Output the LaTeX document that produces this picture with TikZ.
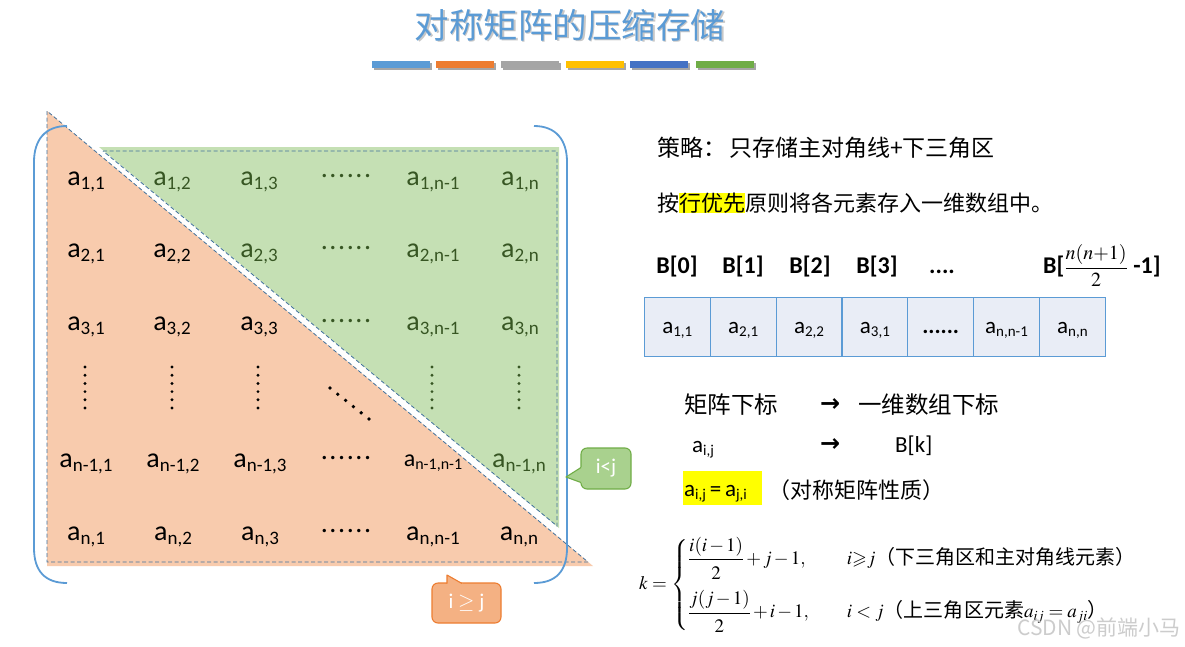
\documentclass[tikz,border=0pt]{standalone}
\usepackage{amsmath,amssymb}
\usepackage{mathptmx}
\usepackage[no-math]{fontspec}
\setmainfont{Carlito}
\newfontfamily\cjk{Noto Sans CJK SC}
\newfontfamily\dv{DejaVu Sans}
\definecolor{tblue}{HTML}{5B9BD5}
\definecolor{torange}{HTML}{ED7D31}
\definecolor{tgray}{HTML}{A5A5A5}
\definecolor{tyellow}{HTML}{FFC000}
\definecolor{tdblue}{HTML}{4472C4}
\definecolor{tgreen}{HTML}{70AD47}
\definecolor{ofill}{HTML}{F8CBAD}
\definecolor{gfill}{HTML}{C5E0B4}
\definecolor{dkgreen}{HTML}{375623}
\definecolor{dashc}{HTML}{41719C}
\definecolor{cellf}{HTML}{E9EDF6}
\definecolor{calg}{HTML}{A9D18E}
\definecolor{calo}{HTML}{F4B183}
\definecolor{hl}{HTML}{FFFF00}
\newcommand\ma[1]{a\raisebox{-4.5pt}{\fontsize{19}{19}\selectfont #1}}
\newcommand\mas[1]{a\raisebox{-3.5pt}{\fontsize{16}{16}\selectfont #1}}
\newcommand\cella[1]{a\raisebox{-3pt}{\fontsize{15}{15}\selectfont #1}}
\newcommand\hdts{.\kern1.6pt.\kern1.6pt.\kern1.6pt.\kern1.6pt.\kern1.6pt.}
\newcommand\cjt[1]{\text{\cjk\fontsize{20}{24}\selectfont #1}}
\newcommand\numr[1]{#1\rule[-4pt]{0pt}{1pt}}
\newcommand\denr[1]{\rule{0pt}{17pt}#1}
\tikzset{
  mb/.style={anchor=base, inner sep=0pt, font=\fontsize{28}{30}\selectfont, text=black},
  mg/.style={mb, text=dkgreen},
  dotb/.style={anchor=base, inner sep=0pt, font=\fontsize{28}{30}\selectfont, text=black},
  dotg/.style={dotb, text=dkgreen},
  dsh/.style={draw=dashc, line width=0.8pt, dash pattern=on 4pt off 2.5pt},
  brk/.style={draw=tblue, line width=1.8pt},
  cell/.style={draw=tblue, fill=cellf, line width=0.9pt, minimum width=65.7pt, minimum height=59pt, inner sep=0pt, anchor=north west},
  celltx/.style={anchor=base, inner sep=0pt, font=\fontsize{23}{25}\selectfont},
  blab/.style={anchor=base, inner sep=0pt, font=\fontsize{24}{26}\selectfont\bfseries},
  cn/.style={anchor=west, inner sep=0pt, font=\fontsize{22}{26}\selectfont\cjk},
  cnb/.style={anchor=west, inner sep=0pt, font=\fontsize{23.5}{26}\selectfont\cjk},
  arw/.style={anchor=west, inner sep=0pt, font=\fontsize{24}{26}\selectfont\dv\bfseries},
}
\begin{document}
\begin{tikzpicture}[x=1pt,y=-1pt]
\useasboundingbox (0,0) rectangle (1185,646);
\fill[white] (0,0) rectangle (1185,646);

% title
\node[inner sep=0pt, text=black!22, font=\fontsize{34.5}{36}\selectfont\cjk] (titles) at (571.5,26.5) {对称矩阵的压缩存储};
\node[inner sep=0pt, text=tblue, font=\fontsize{34.5}{36}\selectfont\cjk] (title) at (570,25) {对称矩阵的压缩存储};

% colour bars
\foreach \x/\c in {372/tblue,436/torange,501/tgray,566/tyellow,630/tdblue,696/tgreen}{
  \fill[black!35] (\x+1.5,62.5) rectangle (\x+59.5,69.5);
  \fill[\c] (\x,61) rectangle (\x+58,68);
}

% triangles
\fill[ofill] (47,111) -- (47,566) -- (593,566) -- cycle;
\fill[gfill] (99,147) -- (559,147) -- (559,528) -- cycle;
\draw[dsh] (47,111) -- (47,562) -- (588,562) -- cycle;
\draw[dsh] (103,151) -- (557,151) -- (557,526) -- cycle;

% brackets
\draw[brk] (67,126) .. controls (45,126) and (34,140) .. (34,162) -- (34,548) .. controls (34,571) and (45,583) .. (67,583);
\draw[brk] (534,126) .. controls (556,126) and (567,140) .. (567,162) -- (567,548) .. controls (567,571) and (556,583) .. (534,583);

% matrix row 1
\node[mb] (m11) at (86,185) {\ma{1,1}};
\node[mg] (m12) at (172,185) {\ma{1,2}};
\node[mg] (m13) at (259,185) {\ma{1,3}};
\node[dotg] (m14) at (346,177) {\hdts};
\node[mg] (m15) at (433,185) {\ma{1,n-1}};
\node[mg] (m16) at (520,185) {\ma{1,n}};
% row 2
\node[mb] (m21) at (86,257) {\ma{2,1}};
\node[mb] (m22) at (172,257) {\ma{2,2}};
\node[mg] (m23) at (259,257) {\ma{2,3}};
\node[dotg] (m24) at (346,249) {\hdts};
\node[mg] (m25) at (433,257) {\ma{2,n-1}};
\node[mg] (m26) at (520,257) {\ma{2,n}};
% row 3
\node[mb] (m31) at (86,330) {\ma{3,1}};
\node[mb] (m32) at (172,330) {\ma{3,2}};
\node[mb] (m33) at (259,330) {\ma{3,3}};
\node[dotg] (m34) at (346,322) {\hdts};
\node[mg] (m35) at (433,330) {\ma{3,n-1}};
\node[mg] (m36) at (520,330) {\ma{3,n}};
% row 4 : dots
\foreach \cx/\cc in {85/black,172/black,258/black,432/dkgreen,519/dkgreen}{
  \foreach \k in {0,...,5}{\fill[\cc] (\cx,367+8.2*\k) circle (1.6);}
}
\foreach \k in {0,...,5}{\fill[black] (330+7.8*\k,388+6.2*\k) circle (1.9);}
% row 5
\node[mb] (m51) at (86,467) {\ma{n-1,1}};
\node[mb] (m52) at (173,467) {\ma{n-1,2}};
\node[mb] (m53) at (260,467) {\ma{n-1,3}};
\node[dotb] (m54) at (346,459) {\hdts};
\node[mb, font=\fontsize{24}{26}\selectfont] (m55) at (433,466) {\mas{n-1,n-1}};
\node[mg] (m56) at (519,467) {\ma{n-1,n}};
% row 6
\node[mb] (m61) at (86,540) {\ma{n,1}};
\node[mb] (m62) at (173,540) {\ma{n,2}};
\node[mb] (m63) at (260,540) {\ma{n,3}};
\node[dotb] (m64) at (346,532) {\hdts};
\node[mb] (m65) at (433,540) {\ma{n,n-1}};
\node[mb] (m66) at (519,540) {\ma{n,n}};

% callouts
\node[draw=tgreen, fill=calg, line width=1.1pt, rounded corners=6pt, minimum width=50pt, minimum height=41pt, inner sep=0pt] (cg) at (606,468.5) {};
\fill[calg] (582,467) -- (566,477) -- (582,483) -- cycle;
\draw[tgreen, line width=1.1pt, line join=round] (581,467.5) -- (566,477) -- (581,482.5);
\node[inner sep=0pt, text=white, font=\fontsize{21}{23}\selectfont] (cgt) at (cg.center) {i<j};

\node[draw=torange, fill=calo, line width=1.1pt, rounded corners=6pt, minimum width=69pt, minimum height=40pt, inner sep=0pt] (co) at (466.5,603) {};
\fill[calo] (447,584) -- (447,575) -- (463,584) -- cycle;
\draw[torange, line width=1.1pt, line join=round] (447,583.5) -- (447,575) -- (462,583.5);
\node[inner sep=0pt, text=white, font=\fontsize{21}{23}\selectfont] (cot) at (co.center) {i $\geq$ j};

% right side text
\node[cn, font=\fontsize{23}{26}\selectfont\cjk] (s1) at (657,148) {策略：\kern3pt 只存储主对角线+下三角区};
\node[cn] (s2) at (657,203) {按{\setlength\fboxsep{0pt}\colorbox{hl}{行优先}}原则将各元素存入一维数组中。};

% B labels
\node[blab] (b0) at (677,273) {B[0]};
\node[blab] (b1) at (743,273) {B[1]};
\node[blab] (b2) at (810,273) {B[2]};
\node[blab] (b3) at (877,273) {B[3]};
\node[blab] (bd) at (942,273) {....};
\node[anchor=base west, inner sep=0pt, font=\fontsize{24}{26}\selectfont\bfseries] (bl) at (1043,273) {B[{\fontsize{20}{22}\selectfont$\boldsymbol{\dfrac{n(n{+}1)}{2}}$} -1]};

% array
\foreach \i/\t in {0/{\cella{1,1}},1/{\cella{2,1}},2/{\cella{2,2}},3/{\cella{3,1}},4/{\textbf{......}},5/{\cella{n,n-1}},6/{\cella{n,n}}}{
  \node[cell] (c\i) at (644+65.85*\i,297) {};
  \node[celltx] (ct\i) at ([yshift=-6.5pt]c\i.center) {\t};
}

% mapping
\node[cnb] (r1a) at (684,405) {矩阵下标};
\node[arw] (r1b) at (820,405) {→};
\node[cnb] (r1c) at (858,405) {一维数组下标};
\node[anchor=base west, inner sep=0pt, font=\fontsize{23}{25}\selectfont] (r2a) at (692,452) {\cella{i,j}};
\node[arw] (r2b) at (820,445) {→};
\node[anchor=base west, inner sep=0pt, font=\fontsize{23}{25}\selectfont] (r2c) at (895,452) {B[k]};
\fill[hl] (683,471) rectangle (762,505);
\node[anchor=base west, inner sep=0pt, font=\fontsize{23}{25}\selectfont] (r3a) at (684,496) {\cella{i,j}\,=\,\cella{j,i}};
\node[cn] (r3b) at (768,490) {（对称矩阵性质）};

% formula
\node[anchor=west, inner sep=0pt, font=\fontsize{19}{23}\selectfont] (kf) at (639,585)
 {\medmuskip=2mu $k=\begin{cases}\dfrac{\numr{i(i-1)}}{\denr{2}}+j-1, & \quad i{\geqslant}j\cjt{（下三角区和主对角线元素）}\\[18pt]
 \dfrac{\numr{j(j-1)}}{\denr{2}}+i-1, & \quad i<j\cjt{（上三角区元素}a_{ij}=a_{ji}\cjt{）}\end{cases}$};

% watermark
\node[anchor=east, inner sep=0pt, text=black!22, opacity=0.9, font=\fontsize{21}{23}\selectfont\cjk] (wm) at (1181,628) {CSDN @前端小马};
\end{tikzpicture}
\end{document}
